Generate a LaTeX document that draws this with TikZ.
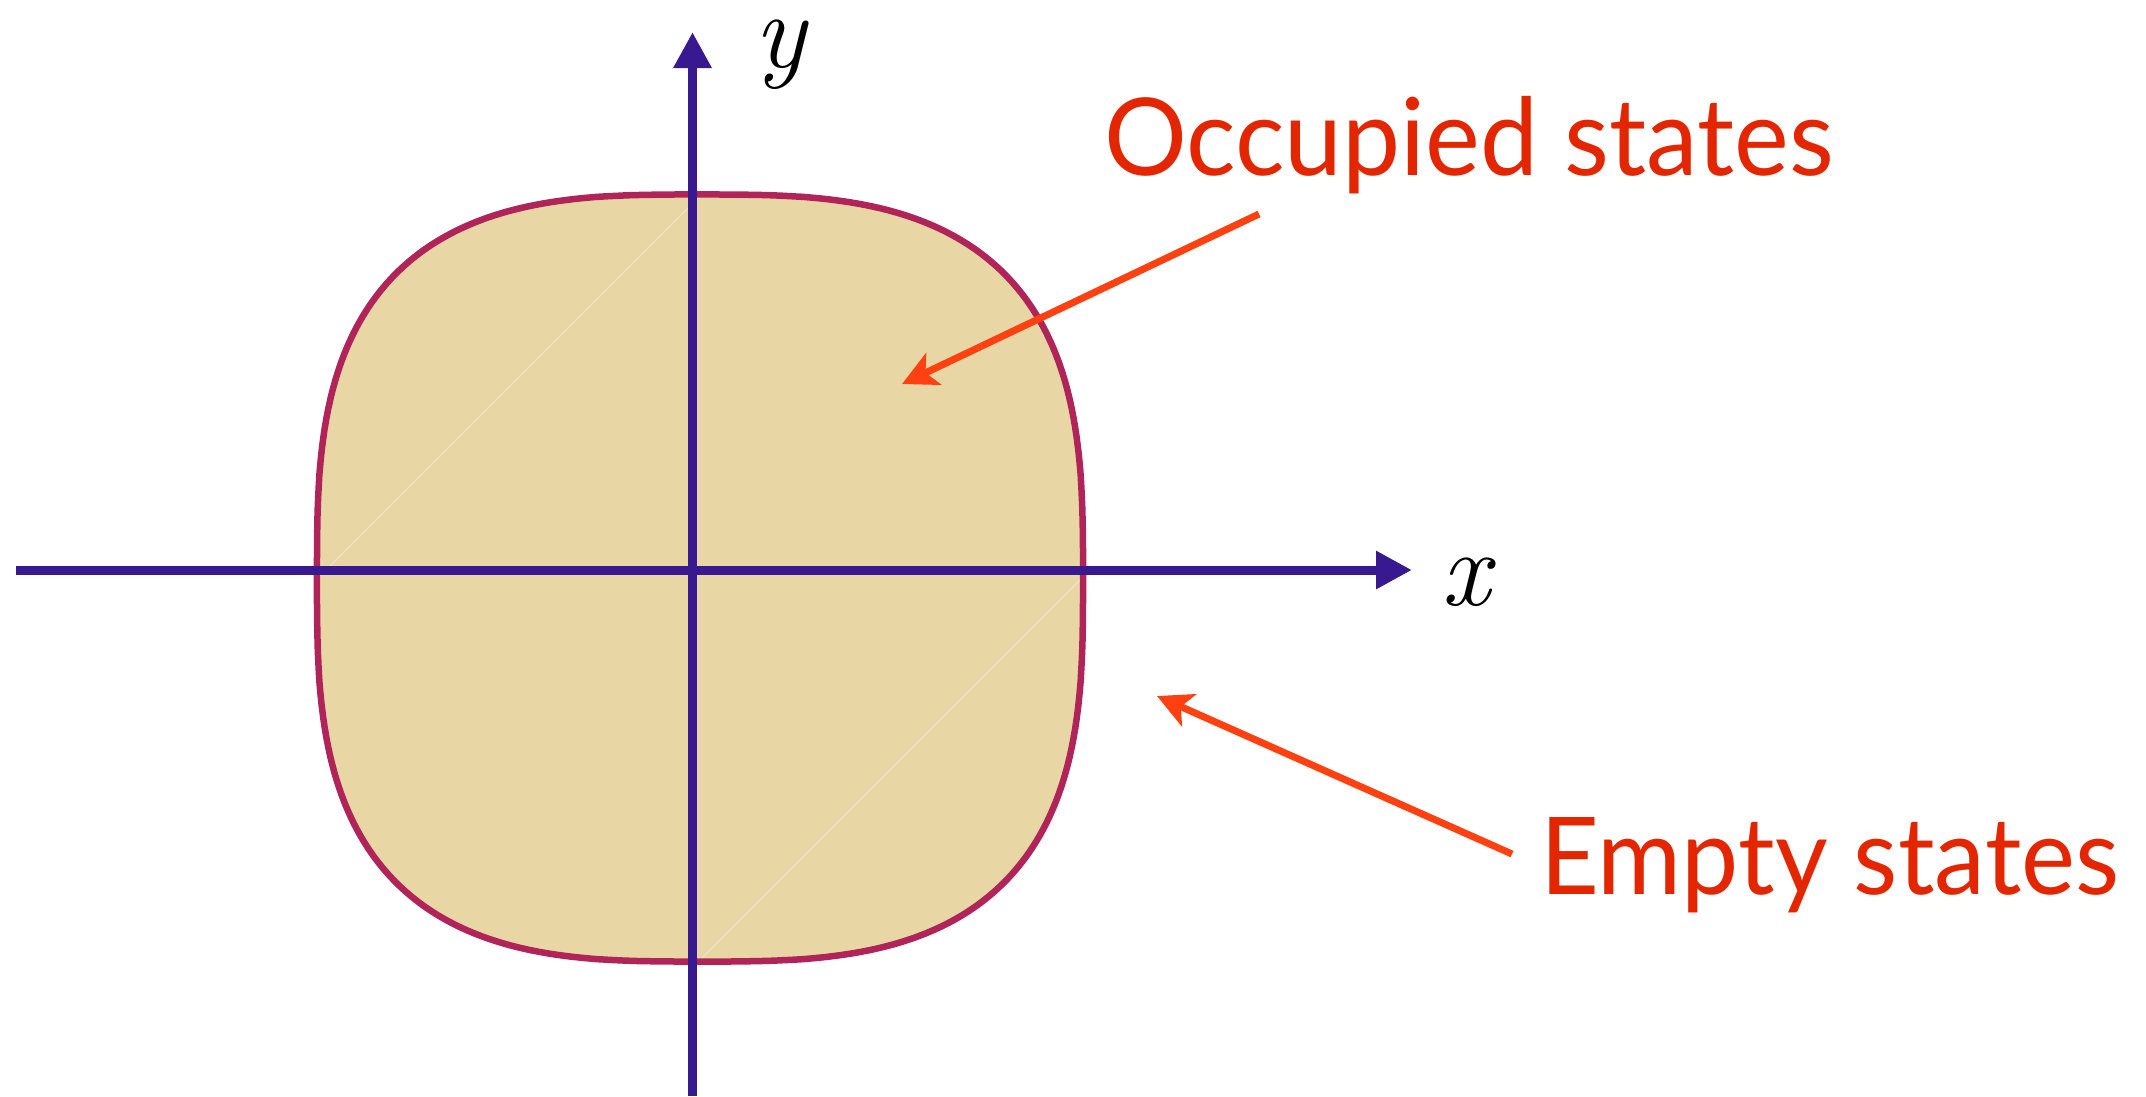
\documentclass[tikz,border=0pt]{standalone}
\usepackage{fontspec}
\setmainfont{Lato}
\usetikzlibrary{arrows.meta}
\definecolor{regionfill}{HTML}{E8D7A4}
\definecolor{regionedge}{HTML}{B0245A}
\definecolor{axiscol}{HTML}{38198F}
\definecolor{pointcol}{HTML}{FF4010}
\definecolor{labelcol}{HTML}{E32600}
\tikzset{
  axisline/.style={draw=axiscol, line width=9pt, -{Triangle[length=36pt,width=36pt]}},
  pointer/.style={draw=pointcol, line width=7pt, -{Stealth[length=35pt,width=35pt,inset=9pt]}},
  statelabel/.style={text=labelcol, inner sep=0pt, anchor=base west, font=\fontsize{107.5}{120}\selectfont},
  axislabel/.style={inner sep=0pt, anchor=base, font=\fontsize{108}{120}\usefont{TU}{lmr}{m}{it}},
  seam/.style={draw=white, opacity=0.35, line width=1.2pt}
}
\begin{document}
\begin{tikzpicture}[x=1pt,y=-1pt]
\useasboundingbox (0,0) rectangle (2146,1096);
% region
\fill[regionfill] plot[domain=0.1:360.1, samples=721, variable=\t]
  ({700+383*sign(cos(\t))*pow(abs(cos(\t)),2/3)},{578+383.5*sign(sin(\t))*pow(abs(sin(\t)),2/3)}) -- cycle;
\coordinate (topc) at (700,196);
\coordinate (leftc) at (318,578);
\coordinate (rightc) at (1082,578);
\coordinate (botc) at (700,960);
\draw[seam] (topc) -- (leftc);
\draw[seam] (rightc) -- (botc);
\draw[regionedge, line width=6.5pt] plot[domain=0.1:360.1, samples=721, variable=\t]
  ({700+383*sign(cos(\t))*pow(abs(cos(\t)),2/3)},{578+383.5*sign(sin(\t))*pow(abs(sin(\t)),2/3)}) -- cycle;
% axes
\coordinate (xstart) at (16,570);
\coordinate (xend) at (1412,570);
\coordinate (ystart) at (692.5,1096);
\coordinate (yend) at (692.5,32);
\draw[axisline] (xstart) -- (xend);
\draw[axisline] (ystart) -- (yend);
\node[axislabel] (xlab) at (1466,605) {x};
\node[axislabel] (ylab) at (780,67) {y};
% labels
\node[statelabel] (occ) at (1104,175) {\scalebox{0.964}[1]{Occupied states}};
\node[statelabel] (emp) at (1540,894) {\scalebox{0.95}[1]{Empty states}};
\coordinate (occtail) at (1259,214);
\coordinate (occtip) at (902,384);
\coordinate (emptail) at (1512,854);
\coordinate (emptip) at (1157,696);
\draw[pointer] (occtail) -- (occtip);
\draw[pointer] (emptail) -- (emptip);
\end{tikzpicture}
\end{document}
